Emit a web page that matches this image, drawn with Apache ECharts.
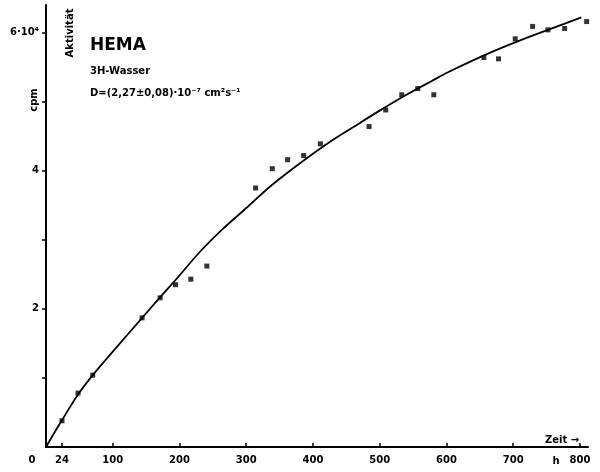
<!DOCTYPE html>
<html>
<head>
<meta charset="utf-8">
<script src="https://cdn.jsdelivr.net/npm/echarts@6/dist/echarts.min.js"></script>
<style>html,body{margin:0;padding:0;background:#fff}#c{width:600px;height:472px}</style>
</head>
<body>
<div id="c"></div>
<script>
// Fitted curve (time in h, activity in 10^4 cpm)
var curveTime  = [0, 24, 48, 70, 100, 144, 171, 196, 230, 263, 300, 338, 382, 424, 460, 498, 540, 578, 603, 663, 716, 760, 802];
var curveValue = [0, 0.39, 0.76, 1.04, 1.38, 1.87, 2.17, 2.44, 2.82, 3.14, 3.46, 3.79, 4.12, 4.41, 4.63, 4.86, 5.10, 5.30, 5.43, 5.70, 5.91, 6.07, 6.22];
// Measured points
var pointTime  = [24, 48, 70, 144, 171, 194, 217, 241, 314, 339, 362, 386, 411, 484, 509, 533, 557, 581, 656, 678, 703, 729, 752, 777, 810];
var pointValue = [0.38, 0.78, 1.04, 1.87, 2.16, 2.35, 2.43, 2.62, 3.75, 4.03, 4.16, 4.22, 4.39, 4.64, 4.88, 5.10, 5.19, 5.10, 5.64, 5.62, 5.91, 6.09, 6.04, 6.06, 6.16];
// Axis ticks / labels
var xTickValues  = [24, 100, 200, 300, 400, 500, 600, 700, 800];
var xLabelValues = [0, 24, 100, 200, 300, 400, 500, 600, 700, 800];
var yTickValues  = [1, 2, 3, 4, 5, 6];
var yLabelValues = [2, 4, 6];

var FONT = 'DejaVu Sans';
var chart = echarts.init(document.getElementById('c'), null, {renderer: 'canvas'});

function zip(a, b) { return a.map(function (v, i) { return [v, b[i]]; }); }

chart.setOption({
  animation: false,
  backgroundColor: '#fff',
  grid: {left: 46, right: 12, top: 5, bottom: 25, containLabel: false},
  xAxis: {
    type: 'value', min: 0, max: 812,
    axisLine: {show: true, lineStyle: {color: '#000', width: 2}},
    axisTick: {show: true, inside: true, length: 4, customValues: xTickValues, lineStyle: {color: '#000', width: 1.5}},
    axisLabel: {
      show: true, customValues: xLabelValues, margin: 8,
      color: '#000', fontFamily: FONT, fontWeight: 'bold', fontSize: 10,
      formatter: function (v) { return v === 0 ? '{z|0}' : String(v); },
      rich: {z: {padding: [0, 28, 0, 0], color: '#000', fontFamily: FONT, fontWeight: 'bold', fontSize: 10}}
    },
    splitLine: {show: false}
  },
  yAxis: {
    type: 'value', min: 0, max: 6.4,
    axisLine: {show: true, lineStyle: {color: '#000', width: 2}},
    axisTick: {show: true, inside: false, length: 4, customValues: yTickValues, lineStyle: {color: '#000', width: 1.5}},
    axisLabel: {
      show: true, customValues: yLabelValues, margin: 7,
      color: '#000', fontFamily: FONT, fontWeight: 'bold', fontSize: 10,
      formatter: function (v) { return v === 6 ? '6·10⁴' : String(v); }
    },
    splitLine: {show: false}
  },
  series: [
    {
      type: 'line', data: zip(curveTime, curveValue), smooth: 0.3,
      showSymbol: false, symbol: 'none',
      lineStyle: {color: '#000', width: 1.8}
    },
    {
      type: 'scatter', data: zip(pointTime, pointValue),
      symbol: 'rect', symbolSize: 5,
      itemStyle: {color: '#000'}
    }
  ],
  graphic: [
    {type: 'text', left: 90, top: 37, style: {text: 'HEMA', fill: '#000', font: 'bold 17px ' + FONT}},
    {type: 'text', left: 90, top: 66, style: {text: '3H-Wasser', fill: '#000', font: 'bold 10px ' + FONT}},
    {type: 'text', left: 90, top: 88, style: {text: 'D=(2,27±0,08)·10⁻⁷ cm²s⁻¹', fill: '#000', font: 'bold 10px ' + FONT}},
    {type: 'text', x: 70, y: 33, rotation: Math.PI / 2, style: {text: 'Aktivität', fill: '#000', font: 'bold 10px ' + FONT, textAlign: 'center', textVerticalAlign: 'middle'}},
    {type: 'text', x: 34, y: 100, rotation: Math.PI / 2, style: {text: 'cpm', fill: '#000', font: 'bold 10px ' + FONT, textAlign: 'center', textVerticalAlign: 'middle'}},
    {type: 'text', x: 545, y: 440, style: {text: 'Zeit →', fill: '#000', font: 'bold 10px ' + FONT, textAlign: 'left', textVerticalAlign: 'middle'}},
    {type: 'text', x: 556, y: 461, style: {text: 'h', fill: '#000', font: 'bold 10px ' + FONT, textAlign: 'center', textVerticalAlign: 'middle'}}
  ]
});
</script>
</body>
</html>
